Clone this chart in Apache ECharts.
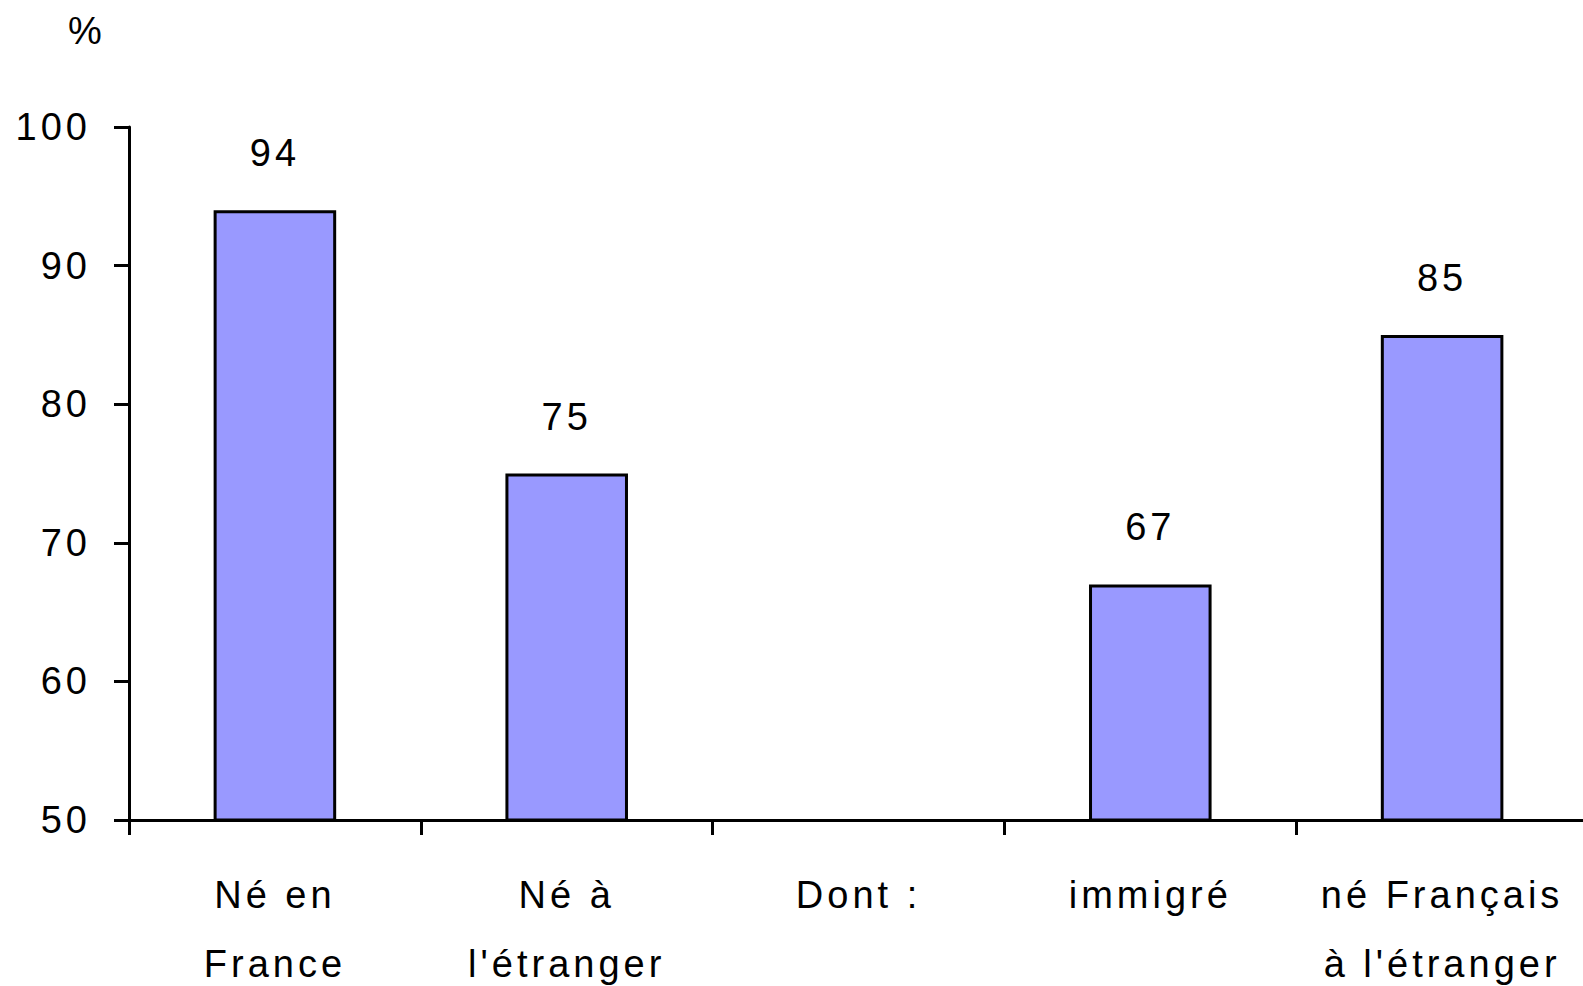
<!DOCTYPE html>
<html>
<head>
<meta charset="utf-8">
<script src="https://cdn.jsdelivr.net/npm/echarts@6/dist/echarts.min.js"></script>
<style>
  html, body { margin: 0; padding: 0; background: #fff; }
  #chart { width: 1583px; height: 986px; }
  /* spaced-out lettering as in the original */
  #chart text { letter-spacing: 4px; }
</style>
</head>
<body>
<div id="chart"></div>
<script>
// categories (x axis)
const categories = ['Né en\nFrance', 'Né à\nl\'étranger', 'Dont :', 'immigré', 'né Français\nà l\'étranger'];
// values in % ("Dont :" has no bar)
const values = [94, 75, null, 67, 85];
// y axis range
const yMin = 50;
const yMax = 100;
const yStep = 10;

const font = '"Liberation Sans", Arial, sans-serif';

const chart = echarts.init(document.getElementById('chart'), null, { renderer: 'svg' });

const option = {
  backgroundColor: '#fff',
  animation: false,
  title: {
    text: '%',
    left: 63,
    top: 7,
    textStyle: { fontFamily: font, fontSize: 38, fontWeight: 'normal', color: '#000' }
  },
  grid: {
    left: 129,
    right: -5,
    top: 127,
    bottom: 166,
    outerBoundsMode: 'none'
  },
  xAxis: {
    type: 'category',
    data: categories,
    axisLine: { lineStyle: { color: '#000', width: 3 } },
    axisTick: { show: true, length: 15, lineStyle: { color: '#000', width: 3 } },
    axisLabel: {
      fontFamily: font,
      fontSize: 38,
      color: '#000',
      lineHeight: 69,
      margin: 40,
      interval: 0
    }
  },
  yAxis: {
    type: 'value',
    min: yMin,
    max: yMax,
    interval: yStep,
    splitLine: { show: false },
    axisLine: { show: true, lineStyle: { color: '#000', width: 3 } },
    axisTick: { show: true, length: 15, lineStyle: { color: '#000', width: 3 } },
    axisLabel: {
      fontFamily: font,
      fontSize: 38,
      color: '#000',
      margin: 38
    }
  },
  series: [
    {
      type: 'bar',
      data: values,
      barWidth: '42%',
      itemStyle: {
        color: '#9999ff',
        borderColor: '#000',
        borderWidth: 3
      },
      label: {
        show: true,
        position: 'top',
        distance: 38,
        fontFamily: font,
        fontSize: 38,
        color: '#000'
      }
    }
  ]
};

chart.setOption(option);
</script>
</body>
</html>
